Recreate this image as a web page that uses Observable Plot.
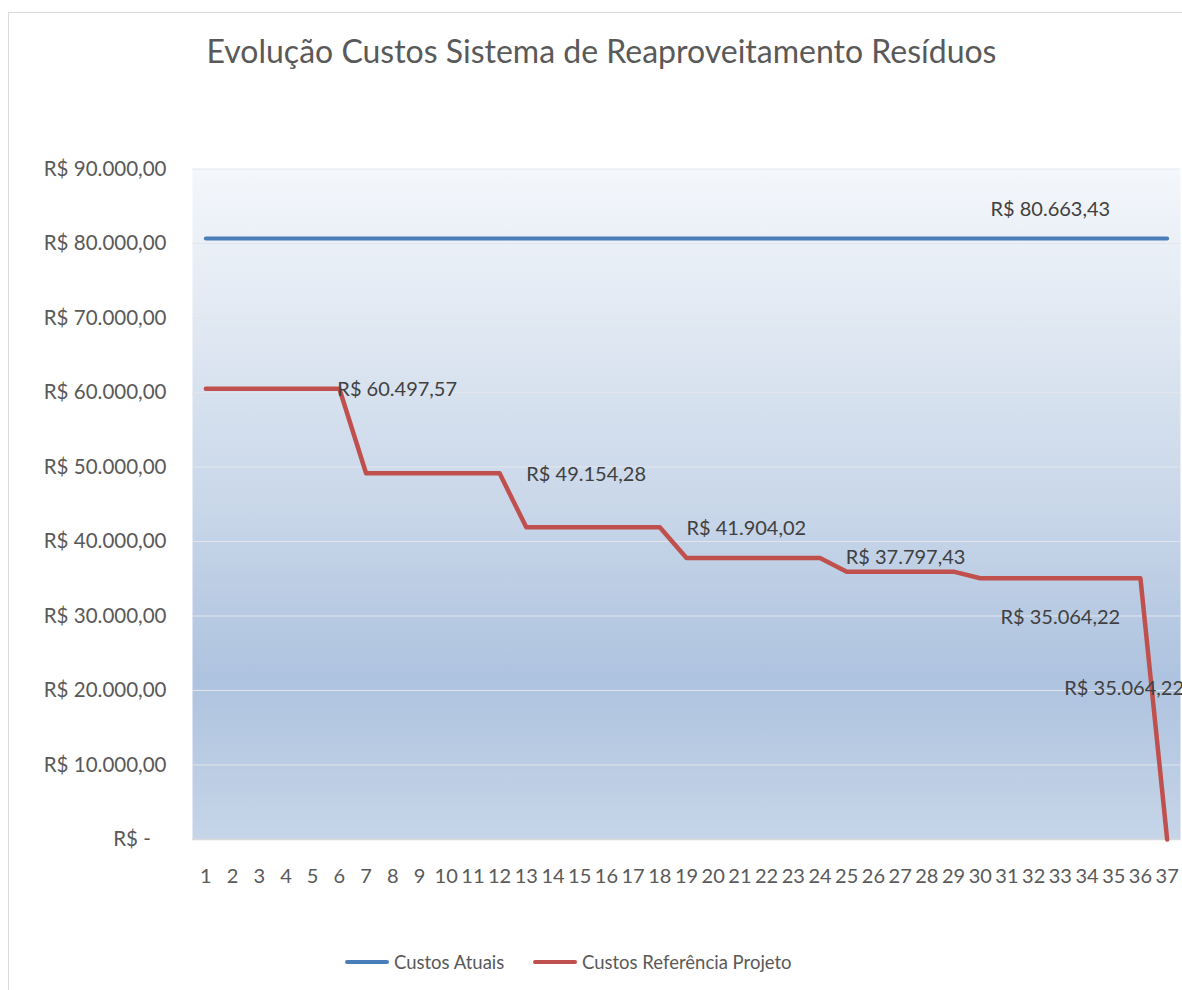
<!DOCTYPE html>
<html>
<head>
<meta charset="utf-8">
<script src="https://cdn.jsdelivr.net/npm/d3@7"></script>
<script src="https://cdn.jsdelivr.net/npm/@observablehq/plot@0.6"></script>
<style>
html, body { margin: 0; padding: 0; background: #fff; overflow: hidden; }
#wrap { position: relative; width: 1182px; height: 990px; font-family: Lato, "Open Sans", sans-serif; overflow: hidden; }
#frame { position: absolute; left: 8px; top: 12px; width: 1200px; height: 1000px; border: 1px solid #d9d9d9; box-sizing: border-box; }
#title { position: absolute; left: 8px; width: 1187px; top: 35px; line-height: 32px; text-align: center; font-size: 32px; color: #595959; white-space: nowrap; }
#chart { position: absolute; left: 0; top: 150px; }
.leg { position: absolute; top: 947px; height: 30px; display: flex; align-items: center; font-size: 18.5px; color: #595959; white-space: nowrap; }
.leg svg { margin-right: 5px; }
</style>
</head>
<body>
<div id="wrap">
  <div id="frame"></div>
  <div id="title"></div>
  <div id="chart"></div>
  <div id="legend"></div>
</div>
<script>
// ---- data ----
const chartTitle = "Evolução Custos Sistema de Reaproveitamento Resíduos";
const periods = [1,2,3,4,5,6,7,8,9,10,11,12,13,14,15,16,17,18,19,20,21,22,23,24,25,26,27,28,29,30,31,32,33,34,35,36,37];
const seriesNames = ["Custos Atuais", "Custos Referência Projeto"];
const custosAtuais = [
  80663.43,80663.43,80663.43,80663.43,80663.43,80663.43,80663.43,80663.43,80663.43,80663.43,
  80663.43,80663.43,80663.43,80663.43,80663.43,80663.43,80663.43,80663.43,80663.43,80663.43,
  80663.43,80663.43,80663.43,80663.43,80663.43,80663.43,80663.43,80663.43,80663.43,80663.43,
  80663.43,80663.43,80663.43,80663.43,80663.43,80663.43,80663.43
];
const custosProjeto = [
  60497.57,60497.57,60497.57,60497.57,60497.57,60497.57,
  49154.28,49154.28,49154.28,49154.28,49154.28,49154.28,
  41904.02,41904.02,41904.02,41904.02,41904.02,41904.02,
  37797.43,37797.43,37797.43,37797.43,37797.43,37797.43,
  35950.00,35950.00,35950.00,35950.00,35950.00,
  35064.22,35064.22,35064.22,35064.22,35064.22,35064.22,35064.22,
  0
];
const yTicks = [0,10000,20000,30000,40000,50000,60000,70000,80000,90000];
// data labels (as shown in the chart)
const labelPeriods = [6, 13, 19, 25, 33, 33, 33];
const labelValues  = [60497.57, 49154.28, 41904.02, 37797.43, 35064.22, 35064.22, 80663.43];

// ---- build ----
const colors = ["#4a7ebb", "#c0504d"];
const loc = d3.formatLocale({decimal: ",", thousands: ".", grouping: [3], currency: ["R$ ", ""]});
const brl = loc.format("$,.2f");
const fmtTick = v => v === 0 ? "R$ -\u00a0\u00a0\u00a0" : brl(v);

const rowsAtual = periods.map((p, i) => ({period: p, value: custosAtuais[i]}));
const rowsProj = periods.map((p, i) => ({period: p, value: custosProjeto[i]}));
const labelRows = labelPeriods.map((p, i) => ({period: p, value: labelValues[i]}));

const lbl = (i, opts) => Plot.text([labelRows[i]], {
  x: "period", y: "value", text: d => brl(d.value),
  fill: "#404040", fontSize: 20, ...opts
});

document.getElementById("title").textContent = chartTitle;

const chart = Plot.plot({
  width: 1182,
  height: 749,
  marginTop: 18.5,
  marginBottom: 60,
  marginLeft: 192,
  marginRight: 2,
  style: {fontFamily: "Lato, 'Open Sans', sans-serif", fontSize: "20px", color: "#595959", background: "transparent", overflow: "visible"},
  x: {type: "linear", domain: [0.5, 37.5], label: null},
  y: {domain: [0, 90000], label: null},
  marks: [
    Plot.frame({fill: "url(#plotGrad)", stroke: "none"}),
    Plot.gridY(yTicks, {stroke: "#e2e6ec", strokeOpacity: 1, strokeWidth: 1}),
    Plot.ruleY([0], {stroke: "#d9d9d9", strokeWidth: 1.5}),
    Plot.axisY(yTicks, {tickSize: 0, tickPadding: 26, tickFormat: fmtTick, fill: "#595959", fontSize: 20.5, label: null}),
    Plot.axisX(periods, {tickSize: 0, tickPadding: 29, tickFormat: d => String(d), fill: "#595959", fontSize: 20, label: null}),
    Plot.line(rowsAtual, {x: "period", y: "value", stroke: colors[0], strokeWidth: 4, strokeLinecap: "round", strokeLinejoin: "round"}),
    Plot.line(rowsProj, {x: "period", y: "value", stroke: colors[1], strokeWidth: 4.5, strokeLinecap: "round", strokeLinejoin: "round"}),
    lbl(0, {textAnchor: "start", dx: -2, dy: 1}),
    lbl(1, {textAnchor: "start", dy: 1}),
    lbl(2, {textAnchor: "start", dy: 1}),
    lbl(3, {textAnchor: "start", dx: -1}),
    lbl(4, {textAnchor: "middle", dy: 39}),
    lbl(5, {textAnchor: "start", dx: 4, dy: 110}),
    lbl(6, {textAnchor: "middle", dx: -10, dy: -29})
  ]
});

// gradient fill for plot area
const defs = d3.select(chart).insert("defs", ":first-child");
const grad = defs.append("linearGradient").attr("id", "plotGrad")
  .attr("x1", 0).attr("y1", 0).attr("x2", 0).attr("y2", 1);
[[0, "#f4f7fb"], [0.5, "#c9d7e9"], [0.76, "#aec3df"], [1, "#c6d5e8"]].forEach(([o, c]) =>
  grad.append("stop").attr("offset", o).attr("stop-color", c));

document.getElementById("chart").appendChild(chart);

// legend
const legend = document.getElementById("legend");
const legLefts = [345, 533];
seriesNames.forEach((name, i) => {
  const item = document.createElement("div");
  item.className = "leg";
  item.style.left = legLefts[i] + "px";
  item.innerHTML = `<svg width="44" height="10"><line x1="2" y1="5" x2="42" y2="5" stroke="${colors[i]}" stroke-width="4" stroke-linecap="round"/></svg><span></span>`;
  item.querySelector("span").textContent = name;
  legend.appendChild(item);
});
</script>
</body>
</html>
